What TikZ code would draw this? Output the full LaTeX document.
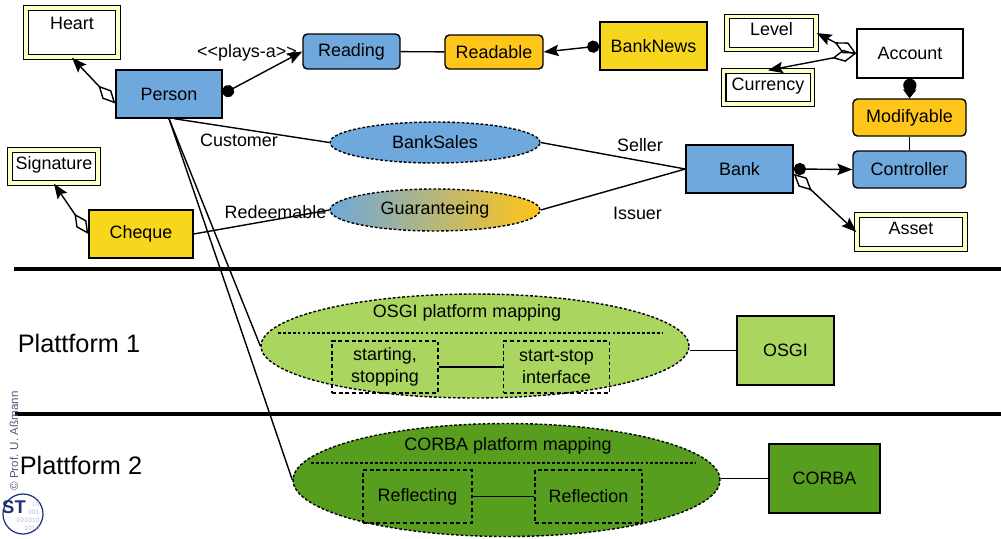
\documentclass[tikz,border=0pt]{standalone}
\usepackage{fontspec}
\setmainfont{Liberation Sans}
\usetikzlibrary{arrows.meta,shapes.geometric}
\definecolor{cblue}{RGB}{111,168,220}
\definecolor{corange}{RGB}{255,197,24}
\definecolor{cyellow}{RGB}{247,214,30}
\definecolor{clgreen}{RGB}{170,214,95}
\definecolor{cdgreen}{RGB}{88,158,30}
\definecolor{cdbl}{RGB}{255,255,200}
\definecolor{ccopy}{RGB}{80,90,125}
\definecolor{clogo}{RGB}{30,50,120}
\definecolor{cdigit}{RGB}{175,180,225}
\begin{document}
\begin{tikzpicture}[x=0.02cm,y=-0.02cm,
  font=\fontsize{10.2}{12.4}\selectfont,
  box/.style={draw, line width=0.8pt, rectangle, inner sep=1pt, align=center},
  rbox/.style={box, rounded corners=2.5pt},
  dbox/.style={draw, line width=0.8pt, double=cdbl, double distance=1.8pt, rectangle, inner sep=1pt, text height=7.5pt, text depth=4.2pt},
  rel/.style={draw, line width=0.8pt, dash pattern=on 1.6pt off 1.1pt, ellipse, inner sep=0pt},
  ibox/.style={draw, line width=0.8pt, dash pattern=on 2.2pt off 1.6pt, rectangle, inner sep=1pt, align=center},
  conn/.style={line width=0.8pt},
  dotline/.style={line width=0.8pt, dash pattern=on 1.6pt off 1.2pt},
  lbl/.style={inner sep=0pt},
  sepline/.style={line width=2pt},
  bigtext/.style={inner sep=0pt, font=\fontsize{14.4}{17}\selectfont},
  agg/.style={arrows={{Diamond[open,length=14pt,width=7pt]}-{Stealth[length=8.5pt,width=6.5pt,inset=1.5pt]}}},
  ball/.style={arrows={{Circle[length=7pt]}-{Stealth[length=8.5pt,width=6.5pt,inset=1.5pt]}}},
  lolly/.style={arrows={{Circle[length=7.5pt]}-{Triangle[length=5pt,width=7.5pt]}}}
]
\useasboundingbox (0,0) rectangle (1001,538);

% separators
\draw[sepline] (14,269) -- (1001,269);
\draw[sepline] (15,414) -- (1001,414);

% platform labels
\node[bigtext] (p1) at (79,343) {Plattform 1};
\node[bigtext] (p2) at (81,465) {Plattform 2};

% top classes
\node[dbox, minimum width=1.84cm, minimum height=0.98cm, text height=11.2pt, text depth=14.6pt] (heart) at (72,32.5) {Heart};
\node[box, fill=cblue, minimum width=2.12cm, minimum height=0.96cm] (person) at (169,94) {Person};
\node[rbox, fill=cblue, minimum width=1.94cm, minimum height=0.70cm] (reading) at (351.5,51.5) {Reading};
\node[rbox, fill=corange, minimum width=1.96cm, minimum height=0.68cm] (readable) at (494,52) {Readable};
\node[box, fill=cyellow, minimum width=2.14cm, minimum height=0.96cm] (banknews) at (653.5,46) {BankNews};
\node[dbox, fill=white, minimum width=1.78cm, minimum height=0.66cm] (level) at (771.5,33) {Level};
\node[dbox, fill=white, minimum width=1.78cm, minimum height=0.66cm] (currency) at (768,87.5) {Currency};
\node[box, fill=white, minimum width=2.12cm, minimum height=0.98cm] (account) at (910,53.5) {Account};
\node[rbox, fill=corange, minimum width=2.26cm, minimum height=0.74cm] (modif) at (909.5,117.5) {Modifyable};
\node[rbox, fill=cblue, minimum width=2.26cm, minimum height=0.74cm] (controller) at (909.5,169.5) {Controller};
\node[box, fill=cblue, minimum width=2.14cm, minimum height=0.96cm] (bank) at (739.5,169) {Bank};
\node[dbox, fill=white, minimum width=2.16cm, minimum height=0.68cm] (asset) at (911,232) {Asset};
\node[dbox, fill=white, minimum width=1.76cm, minimum height=0.66cm] (signature) at (54,166.5) {Signature};
\node[box, fill=cyellow, minimum width=2.08cm, minimum height=0.96cm] (cheque) at (141,234) {Cheque};
\node[rel, fill=cblue, minimum width=4.2cm, minimum height=0.82cm] (banksales) at (435,142.5) {BankSales};
\node[rel, left color=cblue, right color=corange, minimum width=4.2cm, minimum height=0.84cm] (guar) at (435,210) {Guaranteeing};

% labels
\node[lbl] (playsa) at (247,53) {<{}<plays-a>{}>};
\node[lbl] (customer) at (239,140) {Customer};
\node[lbl] (seller) at (640,145) {Seller};
\node[lbl] (issuer) at (637.5,213) {Issuer};

% top connectors
\draw[conn, agg] (person.190) -- (heart.south);
\draw[conn, ball] (person.east) -- (reading.west);
\draw[conn] (reading) -- (readable);
\draw[conn, ball] (banknews.west) -- (readable.east);
\draw[conn, agg] (account.west) -- (level.east);
\draw[conn, agg] (account.west) -- (currency.north);
\draw[conn, lolly] (account.south) -- (modif.north);
\draw[conn] (modif) -- (controller);
\draw[conn, ball] (bank.east) -- (controller.west);
\draw[conn, agg] (bank.-5) -- (asset.west);
\draw[conn] (person.-78) -- (banksales.west);
\draw[conn] (banksales.east) -- (bank.west);
\draw[conn] (guar.east) -- (bank.west);
\draw[conn] (cheque.east) -- (guar.west);
\node[lbl] (redeem) at (275.5,212) {Redeemable};
\draw[conn, agg] (cheque.west) -- (signature.south);

% OSGI platform
\node[rel, fill=clgreen, minimum width=8.56cm, minimum height=2.08cm] (osgimap) at (475,346) {};
\node[lbl] (osgititle) at (467,313) {OSGI platform mapping};
\draw[dotline] (278,333) -- (663,333);
\node[ibox, minimum width=2.12cm, minimum height=1.04cm] (starting) at (385,367) {starting,\\stopping};
\node[ibox, minimum width=2.12cm, minimum height=1.04cm] (startstop) at (556.5,367) {start-stop\\interface};
\draw[conn] (starting) -- (startstop);
\node[box, fill=clgreen, minimum width=1.94cm, minimum height=1.38cm] (osgi) at (785.5,350.5) {OSGI};
\draw[conn] (osgi.west) -- (osgi.west -| osgimap.east);

% CORBA platform
\node[rel, fill=cdgreen, minimum width=8.54cm, minimum height=2.26cm] (corbamap) at (506.5,480) {};
\node[lbl] (corbatitle) at (508,446) {CORBA platform mapping};
\draw[dotline] (311,463) -- (695,463);
\node[ibox, minimum width=2.18cm, minimum height=1.06cm] (reflecting) at (417.5,496.5) {Reflecting};
\node[ibox, minimum width=2.14cm, minimum height=1.06cm] (reflection) at (588.5,496.5) {Reflection};
\draw[conn] (reflecting) -- (reflection);
\node[box, fill=cdgreen, minimum width=2.22cm, minimum height=1.38cm] (corba) at (824.5,478.5) {CORBA};
\draw[conn] (corba.west) -- (corba.west -| corbamap.east);

% person to platform mappings
\draw[conn] (person.south) -- (osgimap.west);
\draw[conn] (person.south) -- (corbamap.west);

% copyright and logo
\node[lbl, rotate=90, text=ccopy, font=\fontsize{6.6}{7.5}\selectfont] (copy) at (14,441) {© Prof. U. Aßmann};
\draw[clogo, line width=0.7pt, fill=white] (23,514) circle[radius=0.4cm];
\node[lbl, text=cdigit, font=\fontsize{4.2}{4.6}\selectfont\ttfamily, align=right] (digits) at (28,516) {10\\001\\101010\\1010};
\node[lbl, text=clogo, font=\fontsize{10.5}{11}\selectfont\bfseries] (st) at (14,507) {ST};
\end{tikzpicture}
\end{document}
